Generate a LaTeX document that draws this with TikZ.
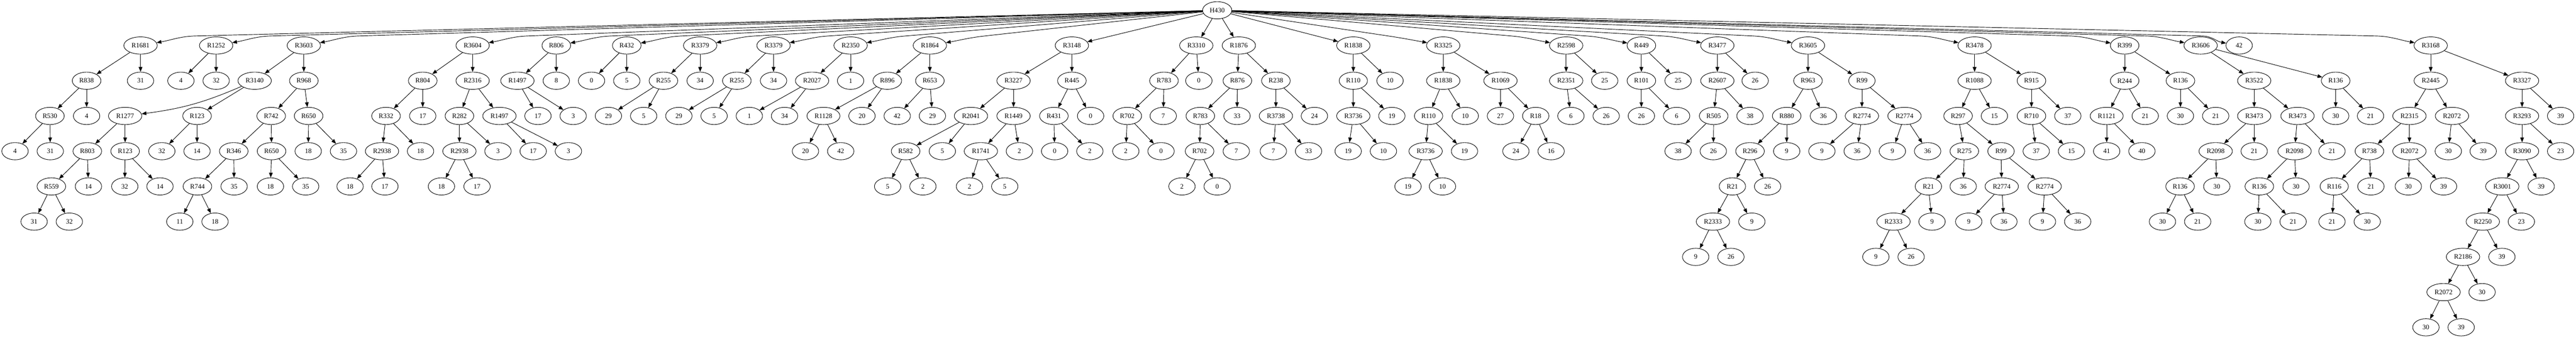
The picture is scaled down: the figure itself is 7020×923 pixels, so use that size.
\documentclass[tikz,border=0pt]{standalone}
\usepackage{fontspec}
\setmainfont{Liberation Serif}
\usetikzlibrary{shapes.geometric,arrows.meta}
\begin{document}
\begin{tikzpicture}[
        x=0.5pt, y=-0.5pt,
        oval/.style={draw, ellipse, line width=0.65pt, minimum width=36pt, minimum height=23.5pt,
            inner xsep=3.9pt, inner ysep=1pt, font=\fontsize{9.14}{11}\selectfont},
        arrow/.style={-{Triangle[length=6.5pt,width=5pt]}, line width=0.65pt}
    ]
        \useasboundingbox (0,0) rectangle (7020,923);

        % Root
        \node[oval] (l0x3317) at (3317,28) {H430};

        % Level 1, left of the root: run flat, then bend into the node
        \foreach \c/\lab/\ko in {383/R1681/150, 589/R1252/150, 828/R3603/150, 1288/R3604/150,
                1516/R806/150, 1708/R432/150, 1908/R3379/150, 2108/R3379/150, 2318/R2350/150,
                2534/R1864/150} {
            \node[oval] (l1x\c) at (\c,124) {\lab};
            \pgfmathsetmacro\kx{\c+\ko}
            \pgfmathsetmacro\ang{180+atan(70/(3317-\kx))}
            \draw[arrow] (l0x3317) -- (\kx,98) to[out=\ang, in=10] (l1x\c);
        }
        % Level 1, close to the root
        \foreach \c/\lab in {2921/R3148, 3260/R3310, 3376/R1876, 3688/R1838} {
            \node[oval] (l1x\c) at (\c,124) {\lab};
            \draw[arrow] (l0x3317) -- (l1x\c);
        }
        % Level 1, right of the root
        \foreach \c/\lab/\ko in {3933/R3325/150, 4268/R2598/150, 4473/R449/150, 4680/R3477/150,
                4927/R3605/150, 5381/R3478/150, 5790/R399/150, 5997/R3606/150, 6102/42/100,
                6624/R3168/150} {
            \node[oval] (l1x\c) at (\c,124) {\lab};
            \pgfmathsetmacro\kx{\c-\ko}
            \pgfmathsetmacro\ang{360-atan(70/(\kx-3317))}
            \draw[arrow] (l0x3317) -- (\kx,98) to[out=\ang, in=170] (l1x\c);
        }

        % Level 2
        \foreach \p/\c/\lab in {383/236/R838, 383/383/31, 589/493/4, 589/589/32,
                828/694/R3140, 828/828/R968, 1288/1152/R804, 1288/1288/R2316,
                1516/1410/R1497, 1516/1516/8, 1708/1612/0, 1708/1708/5,
                1908/1808/R255, 1908/1908/34, 2108/2008/R255, 2108/2108/34,
                2318/2213/R2027, 2318/2318/1, 2534/2418/R896, 2534/2534/R653,
                2921/2762/R3227, 2921/2921/R445, 3260/3172/R783, 3260/3267/0,
                3376/3372/R876, 3376/3477/R238, 3688/3688/R110, 3688/3788/10,
                3933/3933/R1838, 3933/4089/R1069, 4268/4268/R2351, 4268/4373/25,
                4473/4473/R101, 4473/4573/25, 4680/4680/R2607, 4680/4783/26,
                4927/4927/R963, 4927/5074/R99, 5381/5381/R1088, 5381/5536/R915,
                5790/5790/R244, 5790/5942/R136, 5997/6143/R3522, 5997/6365/R136,
                6624/6624/R2445, 6624/6873/R3327} {
            \node[oval] (l2x\c) at (\c,220) {\lab};
            \draw[arrow] (l1x\p) -- (l2x\c);
        }

        % Level 3
        \node[oval] (l3x341) at (341,316) {R1277};
        \draw[arrow] (l2x694) to[bend left=8] (l3x341);
        \foreach \p/\c/\lab in {236/136/R530, 236/236/4, 694/537/R123,
                828/739/R742, 828/841/R650, 1152/1052/R332, 1152/1152/17,
                1288/1252/R282, 1288/1361/R1497, 1410/1466/17, 1410/1562/3,
                1808/1658/29, 1808/1754/5, 2008/1850/29, 2008/1946/5,
                2213/2042/1, 2213/2138/34, 2418/2244/R1128, 2418/2349/20,
                2534/2445/42, 2534/2541/29, 2762/2646/R2041, 2762/2762/R1449,
                2921/2872/R431, 2921/2972/0, 3172/3072/R702, 3172/3170/7,
                3372/3271/R783, 3372/3371/33, 3477/3477/R3738, 3477/3582/24,
                3688/3688/R3736, 3688/3793/19, 3933/3893/R110, 3933/3993/10,
                4089/4089/27, 4089/4185/R18, 4268/4281/6, 4268/4377/26,
                4473/4473/26, 4473/4569/6, 4680/4670/R505, 4680/4769/38,
                4927/4869/R880, 4927/4969/36, 5074/5074/R2774, 5074/5190/R2774,
                5381/5336/R297, 5381/5435/15, 5536/5536/R710, 5536/5635/37,
                5790/5741/R1121, 5790/5846/21, 5942/5942/30, 5942/6038/21,
                6143/6143/R3473, 6143/6261/R3473, 6365/6365/30, 6365/6460/21,
                6624/6566/R2315, 6624/6682/R2072, 6873/6873/R3293, 6873/6978/39} {
            \node[oval] (l3x\c) at (\c,316) {\lab};
            \draw[arrow] (l2x\p) -- (l3x\c);
        }

        % Level 4
        \foreach \p/\c/\lab in {136/41/4, 136/137/31, 341/238/R803, 341/341/R123,
                537/441/32, 537/537/14, 739/637/R346, 739/740/R650,
                841/840/18, 841/936/35, 1052/1041/R2938, 1052/1146/18,
                1252/1252/R2938, 1252/1357/3, 1361/1453/17, 1361/1549/3,
                2244/2195/20, 2244/2291/42, 2646/2468/R582, 2646/2568/5,
                2762/2673/R1741, 2762/2778/2, 2872/2874/0, 2872/2970/2,
                3072/3068/2, 3072/3164/0, 3271/3269/R702, 3271/3369/7,
                3477/3470/7, 3477/3566/33, 3688/3674/19, 3688/3770/10,
                3893/3885/R3736, 3893/3991/19, 4185/4131/24, 4185/4227/16,
                4670/4573/38, 4670/4669/26, 4869/4769/R296, 4869/4869/9,
                5074/4965/9, 5074/5061/36, 5190/5157/9, 5190/5253/36,
                5336/5353/R275, 5336/5453/R99, 5536/5549/37, 5536/5645/15,
                5741/5741/41, 5741/5837/40, 6143/6038/R2098, 6143/6143/21,
                6261/6253/R2098, 6261/6355/21, 6566/6457/R738, 6566/6566/R2072,
                6682/6672/30, 6682/6767/39, 6873/6873/R3090, 6873/6978/23} {
            \node[oval] (l4x\c) at (\c,412) {\lab};
            \draw[arrow] (l3x\p) -- (l4x\c);
        }

        % Level 5
        \foreach \p/\c/\lab in {238/140/R559, 238/241/14, 341/340/32, 341/436/14,
                637/538/R744, 637/638/35, 740/737/18, 740/833/35,
                1041/954/18, 1041/1049/17, 1252/1203/18, 1252/1300/17,
                2468/2419/5, 2468/2515/2, 2673/2642/2, 2673/2738/5,
                3269/3221/2, 3269/3317/0, 3885/3837/19, 3885/3931/10,
                4769/4721/R21, 4769/4817/26, 5353/5255/R21, 5353/5350/36,
                5453/5455/R2774, 5453/5572/R2774, 6038/5941/R136, 6038/6041/30,
                6253/6157/R136, 6253/6257/30, 6457/6361/R116, 6457/6461/21,
                6566/6563/30, 6566/6659/39, 6873/6819/R3001, 6873/6925/39} {
            \node[oval] (l5x\c) at (\c,508) {\lab};
            \draw[arrow] (l4x\p) -- (l5x\c);
        }

        % Level 6
        \foreach \p/\c/\lab in {140/93/31, 140/189/32, 538/490/11, 538/586/18,
                4721/4668/R2333, 4721/4774/9, 5255/5160/R2333, 5255/5265/9,
                5455/5365/9, 5455/5461/36, 5572/5566/9, 5572/5662/36,
                5941/5893/30, 5941/5989/21, 6157/6153/30, 6157/6249/21,
                6361/6355/21, 6361/6451/30, 6819/6766/R2250, 6819/6871/23} {
            \node[oval] (l6x\c) at (\c,604) {\lab};
            \draw[arrow] (l5x\p) -- (l6x\c);
        }

        % Levels 7 to 9
        \foreach \p/\c/\lab in {4668/4621/9, 4668/4717/26, 5160/5112/9, 5160/5208/26,
                6766/6712/R2186, 6766/6818/39} {
            \node[oval] (l7x\c) at (\c,700) {\lab};
            \draw[arrow] (l6x\p) -- (l7x\c);
        }
        \foreach \p/\c/\lab in {6712/6659/R2072, 6712/6764/30} {
            \node[oval] (l8x\c) at (\c,796) {\lab};
            \draw[arrow] (l7x\p) -- (l8x\c);
        }
        \foreach \p/\c/\lab in {6659/6611/30, 6659/6707/39} {
            \node[oval] (l9x\c) at (\c,892) {\lab};
            \draw[arrow] (l8x\p) -- (l9x\c);
        }
    \end{tikzpicture}
\end{document}
